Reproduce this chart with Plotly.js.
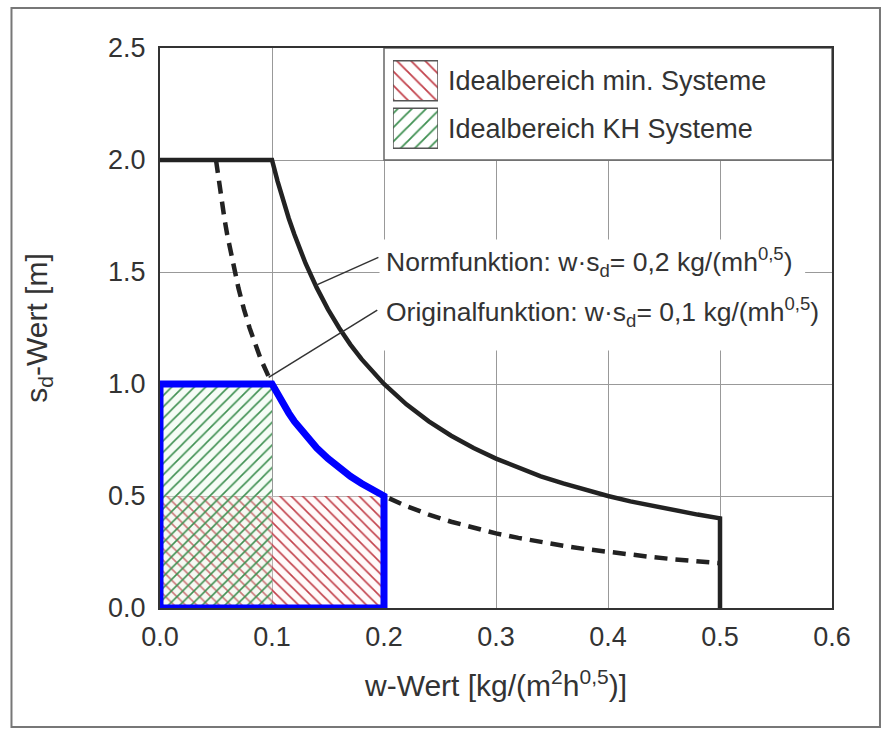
<!DOCTYPE html>
<html><head><meta charset="utf-8">
<script src="https://cdn.plot.ly/plotly-3.0.1.min.js"></script>
<style>body{margin:0;background:#fff}#chart{width:890px;height:733px}</style>
</head><body><div id="chart"></div>
<script>
// Normfunktion w*sd = 0.2 (solid, capped at 2.0 and cut at w = 0.5)
const normW  = [0, 0.1, 0.105, 0.11, 0.115, 0.12, 0.13, 0.14, 0.15, 0.16, 0.17, 0.18, 0.19, 0.2, 0.22, 0.24, 0.26, 0.28, 0.3, 0.32, 0.34, 0.36, 0.38, 0.4, 0.42, 0.44, 0.46, 0.48, 0.5, 0.5];
const normSd = [2.0, 2.0, 1.905, 1.818, 1.739, 1.667, 1.538, 1.429, 1.333, 1.25, 1.176, 1.111, 1.053, 1.0, 0.909, 0.833, 0.769, 0.714, 0.667, 0.625, 0.588, 0.556, 0.526, 0.5, 0.476, 0.455, 0.435, 0.417, 0.4, 0];
// Originalfunktion w*sd = 0.1 (dashed)
const origW  = [0.05, 0.0525, 0.055, 0.0575, 0.06, 0.065, 0.07, 0.075, 0.08, 0.09, 0.1, 0.11, 0.12, 0.13, 0.14, 0.15, 0.16, 0.18, 0.2, 0.22, 0.24, 0.26, 0.28, 0.3, 0.32, 0.34, 0.36, 0.38, 0.4, 0.42, 0.44, 0.46, 0.48, 0.5];
const origSd = [2.0, 1.905, 1.818, 1.739, 1.667, 1.538, 1.429, 1.333, 1.25, 1.111, 1.0, 0.909, 0.833, 0.769, 0.714, 0.667, 0.625, 0.556, 0.5, 0.455, 0.417, 0.385, 0.357, 0.333, 0.313, 0.294, 0.278, 0.263, 0.25, 0.238, 0.227, 0.217, 0.208, 0.2];
// blue outline of the ideal range
const idealW  = [0, 0, 0.1, 0.105, 0.11, 0.115, 0.12, 0.13, 0.14, 0.15, 0.16, 0.17, 0.18, 0.19, 0.2, 0.2, 0];
const idealSd = [0, 1.0, 1.0, 0.952, 0.909, 0.870, 0.833, 0.769, 0.714, 0.667, 0.625, 0.588, 0.556, 0.526, 0.5, 0, 0];
// hatched regions
const minW  = [0, 0.2, 0.2, 0, 0];
const minSd = [0, 0, 0.5, 0.5, 0];
const khW   = [0, 0.1, 0.1, 0, 0];
const khSd  = [0, 0, 1.0, 1.0, 0];
const legendLabels = ['Idealbereich min. Systeme', 'Idealbereich KH Systeme'];
const xTickVals = [0, 0.1, 0.2, 0.3, 0.4, 0.5, 0.6];
const xTickText = ['0.0', '0.1', '0.2', '0.3', '0.4', '0.5', '0.6'];
const yTickVals = [0, 0.5, 1.0, 1.5, 2.0, 2.5];
const yTickText = ['0.0', '0.5', '1.0', '1.5', '2.0', '2.5'];

const RED = '#c2414b', GREEN = '#3f9052', FONT = 'Liberation Sans, Arial, sans-serif', TXT = '#333';

const traces = [
  {type:'scatter', x:minW, y:minSd, mode:'lines', line:{width:0}, fill:'toself', fillcolor:'rgba(0,0,0,0)',
   fillpattern:{shape:'\\', fgcolor:RED, bgcolor:'rgba(255,240,240,0.3)', size:8, solidity:0.2}, hoverinfo:'skip', showlegend:false},
  {type:'scatter', x:khW, y:khSd, mode:'lines', line:{width:0}, fill:'toself', fillcolor:'rgba(0,0,0,0)',
   fillpattern:{shape:'/', fgcolor:GREEN, bgcolor:'rgba(225,245,225,0.3)', size:8, solidity:0.2}, hoverinfo:'skip', showlegend:false},
  {type:'scatter', x:origW, y:origSd, mode:'lines', line:{color:'#222', width:4.5, dash:'13px,8px'}, showlegend:false},
  {type:'scatter', x:normW, y:normSd, mode:'lines', line:{color:'#222', width:4.5}, showlegend:false},
  {type:'scatter', x:idealW, y:idealSd, mode:'lines', line:{color:'#0000ff', width:7}, showlegend:false},
  {type:'bar', orientation:'h', xaxis:'x2', yaxis:'y2', y:legendLabels, x:legendLabels.map(() => 1), width:0.84,
   marker:{color:'white', line:{color:'#555', width:1.5},
     pattern:{shape:['\\','/'], fgcolor:[RED, GREEN], bgcolor:'white', size:10, solidity:0.18}},
   hoverinfo:'skip', showlegend:false}
];

const layout = {
  width:890, height:733,
  margin:{l:160, r:58, t:48, b:125},
  paper_bgcolor:'white', plot_bgcolor:'white',
  font:{family:FONT, color:TXT},
  showlegend:false,
  xaxis:{range:[0,0.6], tickvals:xTickVals, ticktext:xTickText, showgrid:true, gridcolor:'#999', gridwidth:1,
    zeroline:false, showline:true, mirror:true, linecolor:'#333', linewidth:2, ticks:'',
    tickfont:{size:27, color:TXT}, ticklabelstandoff:4,
    title:{text:'w-Wert [kg/(m<sup>2</sup>h<sup>0,5</sup>)]', font:{size:30, color:TXT}, standoff:24}},
  yaxis:{range:[0,2.5], tickvals:yTickVals, ticktext:yTickText, showgrid:true, gridcolor:'#999', gridwidth:1,
    zeroline:false, showline:true, mirror:true, linecolor:'#333', linewidth:2, ticks:'',
    tickfont:{size:27, color:TXT}, ticklabelstandoff:7,
    title:{text:'s<sub>d</sub>-Wert [m]', font:{size:30, color:TXT}, standoff:52}},
  xaxis2:{domain:[0.3467, 0.4137], range:[0,1], visible:false, anchor:'y2', fixedrange:true},
  yaxis2:{domain:[0.814, 0.984], type:'category', categoryorder:'array', categoryarray:legendLabels,
    range:[1.5,-0.5], anchor:'x2', side:'right', showgrid:false, zeroline:false, showline:false, ticks:'',
    tickfont:{size:27, color:TXT}, ticklabelstandoff:9, fixedrange:true},
  shapes:[
    {type:'rect', xref:'x', yref:'y', x0:0.2, x1:0.6, y0:2.0, y1:2.5, layer:'between', fillcolor:'white', line:{color:'#666', width:1.5}},
    {type:'rect', xref:'x', yref:'y', x0:0.196, x1:0.576, y0:1.15, y1:1.645, layer:'between', fillcolor:'white', line:{width:0}},
    {type:'line', xref:'x', yref:'y', x0:0.195, y0:1.565, x1:0.139, y1:1.44, line:{color:'#333', width:1.5}},
    {type:'line', xref:'x', yref:'y', x0:0.194, y0:1.33, x1:0.097, y1:1.03, line:{color:'#333', width:1.5}},
    {type:'rect', xref:'paper', yref:'paper', x0:-0.221, x1:1.0714, y0:-0.2125, y1:1.0714, line:{color:'#777', width:2}, fillcolor:'rgba(0,0,0,0)'}
  ],
  annotations:[
    {xref:'x', yref:'y', x:0.2, y:1.545, xanchor:'left', yanchor:'middle', showarrow:false,
     text:'Normfunktion: w·s<sub>d</sub>= 0,2 kg/(mh<sup>0,5</sup>)', font:{size:26.5, color:TXT}},
    {xref:'x', yref:'y', x:0.2, y:1.32, xanchor:'left', yanchor:'middle', showarrow:false,
     text:'Originalfunktion: w·s<sub>d</sub>= 0,1 kg/(mh<sup>0,5</sup>)', font:{size:26.5, color:TXT}}
  ]
};

Plotly.newPlot('chart', traces, layout, {displayModeBar:false, staticPlot:true});
</script></body></html>
